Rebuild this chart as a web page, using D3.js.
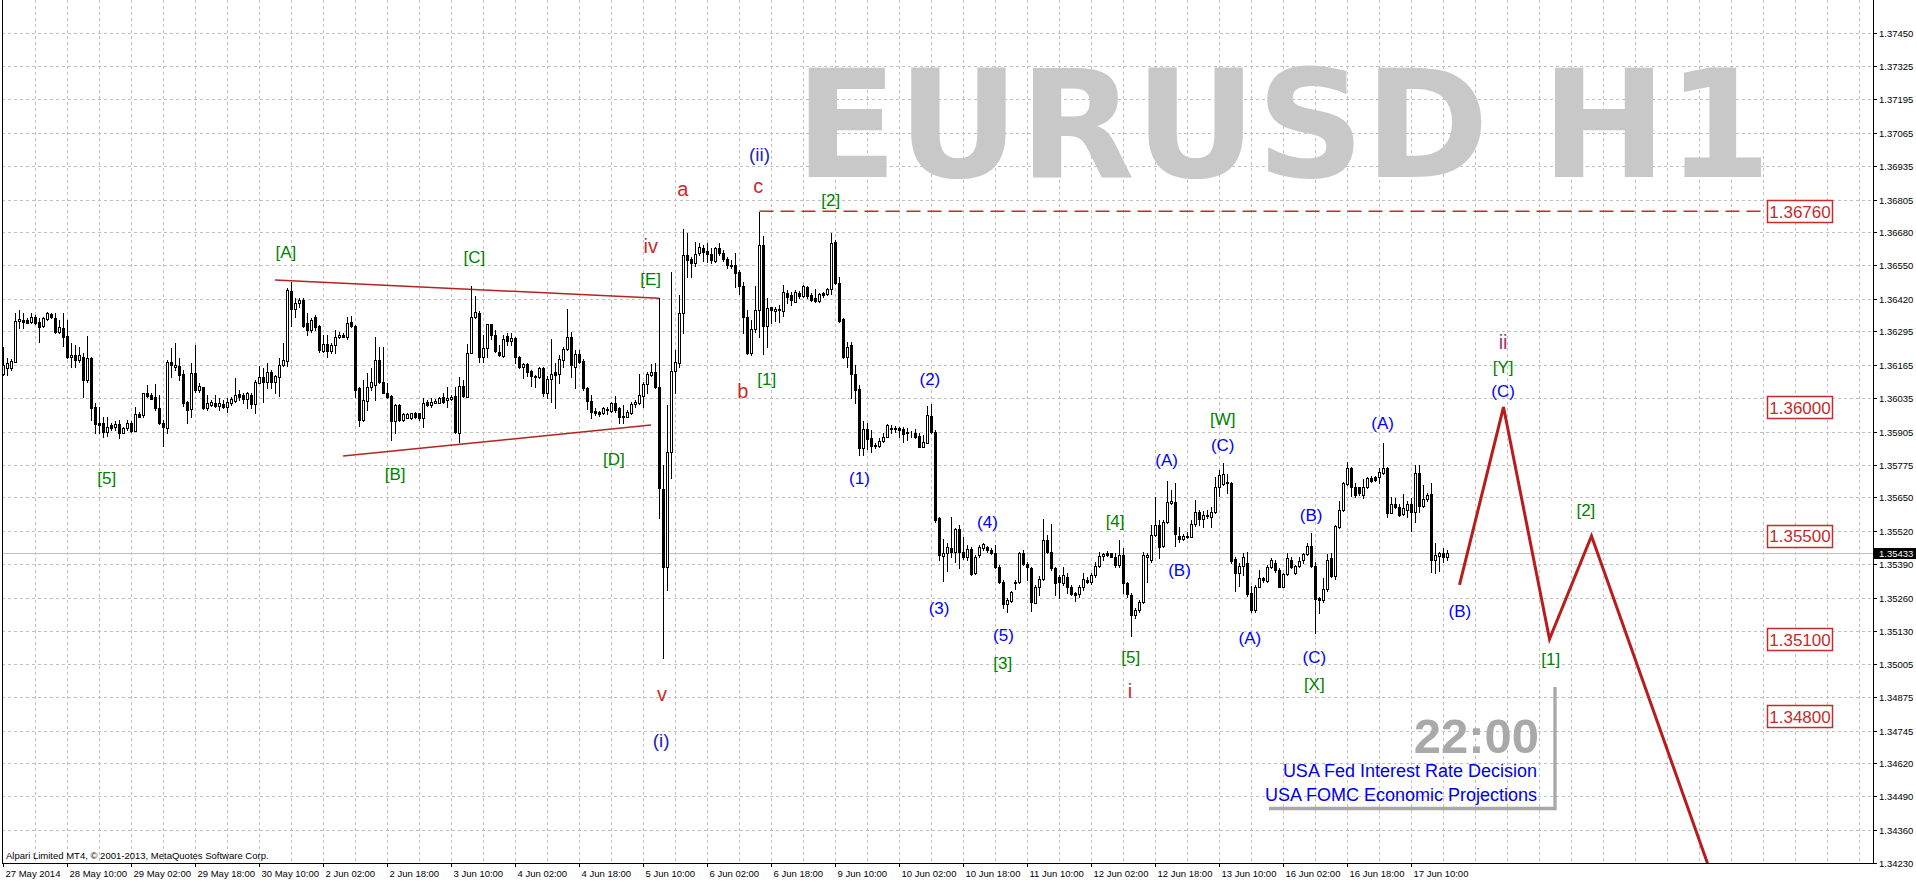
<!DOCTYPE html>
<html><head><meta charset="utf-8">
<script src="https://cdn.jsdelivr.net/npm/d3@7"></script>
<style>html,body{margin:0;padding:0;background:#fff;overflow:hidden}</style>
</head><body>
<svg id="chart" width="1916" height="884"></svg>
<script>
// ---------------- DATA ----------------
const opens=[
1.36128,1.36150,1.36150,1.36176,1.36335,1.36338,1.36338,1.36331,1.36348,1.36331,
1.36315,1.36340,1.36361,1.36347,1.36293,1.36306,1.36276,1.36193,1.36202,1.36183,
1.36196,1.36105,1.36189,1.36002,1.35940,1.35937,1.35905,1.35931,1.35924,1.35934,
1.35901,1.35918,1.35937,1.35909,1.35972,1.35969,1.36053,1.36046,1.36040,1.35995,
1.35937,1.35918,1.36176,1.36157,1.36159,1.36127,1.36021,1.35991,1.36131,1.36066,
1.36077,1.35995,1.36008,1.36017,1.36004,1.36012,1.35999,1.36017,1.36025,1.36051,
1.36047,1.36030,1.36047,1.36012,1.36095,1.36118,1.36099,1.36137,1.36099,1.36115,
1.36163,1.36180,1.36450,1.36379,1.36403,1.36415,1.36325,1.36299,1.36348,1.36315,
1.36219,1.36243,1.36219,1.36241,1.36271,1.36280,1.36273,1.36331,1.36315,1.36073,
1.35950,1.36025,1.36079,1.36086,1.36183,1.36099,1.36056,1.36043,1.35944,1.36008,
1.35950,1.35959,1.35956,1.35976,1.35976,1.35956,1.36021,1.36008,1.36017,1.36017,
1.36038,1.36028,1.36030,1.36043,1.35900,1.36081,1.36040,1.36211,1.36350,1.36366,
1.36195,1.36228,1.36322,1.36279,1.36215,1.36198,1.36275,1.36257,1.36266,1.36195,
1.36156,1.36167,1.36141,1.36115,1.36115,1.36150,1.36056,1.36107,1.36135,1.36128,
1.36182,1.36224,1.36270,1.36156,1.36204,1.36180,1.36072,1.36025,1.35985,1.35979,
1.35978,1.35994,1.35986,1.36014,1.35995,1.35966,1.35963,1.35978,1.36010,1.36014,
1.36044,1.36088,1.36124,1.36135,1.36076,1.35681,1.35378,1.35824,1.36141,1.36169,
1.36363,1.36590,1.36573,1.36560,1.36599,1.36619,1.36607,1.36594,1.36568,1.36616,
1.36599,1.36573,1.36551,1.36550,1.36525,1.36469,1.36348,1.36211,1.36301,1.36376,
1.36628,1.36314,1.36387,1.36374,1.36376,1.36374,1.36444,1.36434,1.36409,1.36444,
1.36431,1.36467,1.36434,1.36425,1.36412,1.36441,1.36438,1.36457,1.36641,1.36480,
1.36340,1.36193,1.36241,1.36128,1.36069,1.35840,1.35913,1.35879,1.35853,1.35849,
1.35870,1.35885,1.35917,1.35917,1.35917,1.35913,1.35904,1.35901,1.35898,1.35888,
1.35846,1.35862,1.35965,1.35905,1.35568,1.35422,1.35435,1.35452,1.35439,1.35526,
1.35439,1.35417,1.35448,1.35355,1.35426,1.35452,1.35459,1.35446,1.35435,1.35381,
1.35323,1.35236,1.35249,1.35323,1.35323,1.35435,1.35391,1.35375,1.35241,1.35303,
1.35332,1.35484,1.35439,1.35375,1.35342,1.35316,1.35342,1.35303,1.35278,1.35275,
1.35303,1.35329,1.35323,1.35349,1.35384,1.35422,1.35435,1.35433,1.35420,1.35387,
1.35426,1.35319,1.35271,1.35193,1.35213,1.35245,1.35420,1.35407,1.35504,1.35543,
1.35461,1.35556,1.35629,1.35633,1.35500,1.35487,1.35500,1.35497,1.35546,1.35594,
1.35565,1.35581,1.35575,1.35594,1.35691,1.35702,1.35711,1.35707,1.35409,1.35355,
1.35384,1.35394,1.35278,1.35213,1.35303,1.35336,1.35327,1.35381,1.35394,1.35368,
1.35303,1.35353,1.35407,1.35358,1.35384,1.35407,1.35430,1.35461,1.35384,1.35258,
1.35252,1.35293,1.35413,1.35345,1.35536,1.35601,1.35702,1.35762,1.35691,1.35689,
1.35659,1.35689,1.35724,1.35727,1.35730,1.35745,1.35762,1.35590,1.35624,1.35614,
1.35585,1.35601,1.35624,1.35594,1.35745,1.35616,1.35642,1.35663,1.35407,1.35422,
1.35433,1.35417];
const highs=[
1.36234,1.36189,1.36185,1.36364,1.36377,1.36364,1.36344,1.36364,1.36357,1.36344,
1.36351,1.36370,1.36366,1.36364,1.36338,1.36364,1.36338,1.36247,1.36241,1.36234,
1.36209,1.36276,1.36196,1.36015,1.36002,1.35963,1.35963,1.35937,1.35944,1.35950,
1.35924,1.35950,1.35944,1.36002,1.35982,1.36056,1.36086,1.36053,1.36090,1.36047,
1.35950,1.36183,1.36228,1.36247,1.36189,1.36144,1.36025,1.36170,1.36241,1.36092,
1.36079,1.36047,1.36028,1.36047,1.36034,1.36028,1.36034,1.36038,1.36112,1.36066,
1.36053,1.36060,1.36053,1.36105,1.36159,1.36150,1.36172,1.36144,1.36124,1.36189,
1.36247,1.36461,1.36487,1.36422,1.36422,1.36422,1.36364,1.36344,1.36357,1.36318,
1.36280,1.36280,1.36247,1.36299,1.36293,1.36286,1.36351,1.36353,1.36318,1.36079,
1.36105,1.36131,1.36150,1.36273,1.36234,1.36234,1.36092,1.36047,1.36012,1.36012,
1.35978,1.35978,1.35978,1.35982,1.35978,1.36034,1.36028,1.36034,1.36030,1.36040,
1.36056,1.36079,1.36047,1.36079,1.36118,1.36105,1.36244,1.36469,1.36431,1.36374,
1.36279,1.36322,1.36322,1.36299,1.36241,1.36279,1.36286,1.36286,1.36270,1.36198,
1.36169,1.36169,1.36144,1.36124,1.36156,1.36154,1.36120,1.36263,1.36172,1.36202,
1.36234,1.36379,1.36292,1.36221,1.36221,1.36185,1.36079,1.36047,1.35995,1.35986,
1.36001,1.35999,1.36021,1.36043,1.35999,1.36008,1.35988,1.36021,1.36027,1.36128,
1.36098,1.36137,1.36167,1.36169,1.36422,1.35775,1.36008,1.36525,1.36221,1.36435,
1.36689,1.36674,1.36583,1.36641,1.36638,1.36628,1.36635,1.36616,1.36622,1.36635,
1.36609,1.36583,1.36570,1.36599,1.36532,1.36486,1.36376,1.36338,1.36469,1.36758,
1.36663,1.36422,1.36389,1.36389,1.36396,1.36473,1.36454,1.36447,1.36454,1.36451,
1.36473,1.36469,1.36444,1.36457,1.36441,1.36447,1.36460,1.36674,1.36650,1.36503,
1.36344,1.36254,1.36254,1.36163,1.36085,1.35947,1.35939,1.35911,1.35859,1.35879,
1.35898,1.35934,1.35930,1.35926,1.35924,1.35921,1.35917,1.35908,1.35913,1.35898,
1.35891,1.36004,1.36012,1.35911,1.35575,1.35487,1.35471,1.35575,1.35530,1.35543,
1.35497,1.35465,1.35459,1.35426,1.35465,1.35471,1.35461,1.35452,1.35465,1.35387,
1.35329,1.35258,1.35288,1.35329,1.35439,1.35446,1.35400,1.35381,1.35310,1.35345,
1.35564,1.35504,1.35546,1.35381,1.35349,1.35381,1.35355,1.35310,1.35284,1.35310,
1.35358,1.35342,1.35355,1.35400,1.35439,1.35433,1.35443,1.35435,1.35433,1.35484,
1.35452,1.35323,1.35278,1.35219,1.35252,1.35439,1.35433,1.35543,1.35652,1.35562,
1.35562,1.35715,1.35678,1.35707,1.35536,1.35508,1.35517,1.35562,1.35640,1.35601,
1.35598,1.35601,1.35614,1.35730,1.35756,1.35782,1.35740,1.35711,1.35420,1.35394,
1.35433,1.35439,1.35306,1.35310,1.35368,1.35342,1.35387,1.35413,1.35407,1.35375,
1.35355,1.35433,1.35420,1.35387,1.35420,1.35435,1.35471,1.35513,1.35400,1.35265,
1.35336,1.35430,1.35435,1.35543,1.35637,1.35711,1.35788,1.35766,1.35704,1.35691,
1.35720,1.35730,1.35733,1.35733,1.35762,1.35859,1.35766,1.35652,1.35646,1.35624,
1.35663,1.35637,1.35646,1.35775,1.35775,1.35698,1.35668,1.35707,1.35471,1.35439,
1.35452,1.35446];
const lows=[
1.36124,1.36124,1.36144,1.36176,1.36306,1.36306,1.36325,1.36325,1.36322,1.36254,
1.36312,1.36338,1.36344,1.36286,1.36286,1.36237,1.36189,1.36154,1.36154,1.36176,
1.36040,1.36099,1.35950,1.35901,1.35901,1.35883,1.35888,1.35911,1.35911,1.35879,
1.35898,1.35911,1.35905,1.35909,1.35960,1.35960,1.36040,1.36030,1.35989,1.35934,
1.35850,1.35901,1.36118,1.36144,1.36105,1.36004,1.35940,1.35963,1.36060,1.36060,
1.35991,1.35989,1.36004,1.36002,1.35989,1.35995,1.35982,1.36008,1.36021,1.36028,
1.36017,1.35995,1.35995,1.35976,1.36092,1.36021,1.36073,1.36073,1.36053,1.36043,
1.36159,1.36159,1.36315,1.36351,1.36390,1.36312,1.36280,1.36293,1.36299,1.36215,
1.36215,1.36196,1.36209,1.36209,1.36267,1.36271,1.36263,1.36312,1.36040,1.35927,
1.35947,1.35989,1.36066,1.36028,1.36092,1.36053,1.36034,1.35872,1.35901,1.35947,
1.35945,1.35956,1.35952,1.35956,1.35950,1.35924,1.36004,1.36002,1.36015,1.36015,
1.36017,1.36002,1.36027,1.35900,1.35866,1.36040,1.36038,1.36208,1.36344,1.36176,
1.36176,1.36193,1.36263,1.36215,1.36198,1.36195,1.36241,1.36241,1.36169,1.36150,
1.36111,1.36120,1.36081,1.36076,1.36111,1.36043,1.36034,1.36021,1.35995,1.36092,
1.36156,1.36221,1.36118,1.36072,1.36169,1.36066,1.35991,1.35956,1.35969,1.35965,
1.35973,1.35975,1.35982,1.35982,1.35937,1.35939,1.35960,1.35975,1.36001,1.36012,
1.36001,1.36053,1.36120,1.36072,1.35568,1.35025,1.35290,1.35723,1.36053,1.36157,
1.36286,1.36506,1.36506,1.36547,1.36590,1.36568,1.36564,1.36560,1.36564,1.36590,
1.36568,1.36538,1.36538,1.36467,1.36438,1.36288,1.36206,1.36202,1.36292,1.36273,
1.36206,1.36234,1.36325,1.36335,1.36331,1.36353,1.36402,1.36396,1.36409,1.36425,
1.36428,1.36425,1.36412,1.36409,1.36409,1.36428,1.36434,1.36438,1.36477,1.36331,
1.36189,1.36154,1.36034,1.36014,1.35814,1.35814,1.35836,1.35827,1.35840,1.35846,
1.35866,1.35882,1.35901,1.35904,1.35882,1.35866,1.35872,1.35882,1.35879,1.35844,
1.35844,1.35859,1.35898,1.35555,1.35407,1.35327,1.35365,1.35420,1.35400,1.35375,
1.35409,1.35407,1.35349,1.35353,1.35420,1.35446,1.35439,1.35430,1.35375,1.35319,
1.35219,1.35206,1.35245,1.35293,1.35319,1.35387,1.35329,1.35210,1.35239,1.35271,
1.35329,1.35433,1.35368,1.35271,1.35258,1.35310,1.35278,1.35271,1.35249,1.35262,
1.35290,1.35316,1.35314,1.35342,1.35378,1.35407,1.35422,1.35417,1.35378,1.35381,
1.35280,1.35265,1.35112,1.35181,1.35206,1.35241,1.35323,1.35400,1.35500,1.35413,
1.35459,1.35552,1.35624,1.35461,1.35478,1.35484,1.35491,1.35495,1.35539,1.35543,
1.35536,1.35568,1.35536,1.35590,1.35655,1.35698,1.35665,1.35394,1.35288,1.35306,
1.35349,1.35267,1.35203,1.35206,1.35301,1.35323,1.35323,1.35375,1.35362,1.35301,
1.35301,1.35349,1.35375,1.35353,1.35381,1.35394,1.35426,1.35378,1.35122,1.35200,
1.35245,1.35288,1.35340,1.35332,1.35530,1.35598,1.35698,1.35655,1.35650,1.35659,
1.35646,1.35685,1.35711,1.35715,1.35704,1.35740,1.35572,1.35588,1.35607,1.35578,
1.35581,1.35575,1.35521,1.35556,1.35594,1.35614,1.35637,1.35362,1.35358,1.35365,
1.35400,1.35407];
const closes=[
1.36163,1.36170,1.36179,1.36335,1.36340,1.36331,1.36328,1.36348,1.36325,1.36312,
1.36344,1.36364,1.36348,1.36293,1.36309,1.36273,1.36193,1.36202,1.36183,1.36202,
1.36105,1.36189,1.35995,1.35934,1.35931,1.35905,1.35924,1.35918,1.35934,1.35901,
1.35918,1.35937,1.35909,1.35972,1.35963,1.36053,1.36043,1.36031,1.35995,1.35937,
1.35921,1.36176,1.36163,1.36163,1.36124,1.36015,1.35989,1.36131,1.36066,1.36082,
1.35995,1.36017,1.36021,1.36004,1.36015,1.35999,1.36021,1.36030,1.36047,1.36040,
1.36030,1.36053,1.36012,1.36099,1.36115,1.36099,1.36137,1.36099,1.36121,1.36163,
1.36183,1.36454,1.36379,1.36403,1.36415,1.36315,1.36299,1.36338,1.36312,1.36221,
1.36243,1.36219,1.36241,1.36271,1.36280,1.36273,1.36325,1.36315,1.36066,1.35950,
1.36028,1.36079,1.36099,1.36183,1.36099,1.36056,1.36040,1.35947,1.36008,1.35950,
1.35973,1.35973,1.35976,1.35963,1.35956,1.36015,1.36008,1.36021,1.36025,1.36034,
1.36021,1.36034,1.36040,1.35904,1.36081,1.36043,1.36208,1.36350,1.36370,1.36195,
1.36228,1.36322,1.36279,1.36219,1.36202,1.36263,1.36257,1.36266,1.36195,1.36156,
1.36166,1.36137,1.36120,1.36120,1.36150,1.36056,1.36107,1.36128,1.36124,1.36185,
1.36224,1.36270,1.36163,1.36204,1.36176,1.36072,1.36025,1.35982,1.35978,1.35975,
1.35995,1.35988,1.36014,1.35988,1.35963,1.35963,1.35979,1.36012,1.36019,1.36047,
1.36089,1.36128,1.36135,1.36076,1.35685,1.35378,1.35824,1.36141,1.36176,1.36363,
1.36590,1.36570,1.36560,1.36594,1.36622,1.36603,1.36594,1.36570,1.36616,1.36599,
1.36573,1.36551,1.36547,1.36521,1.36469,1.36348,1.36211,1.36301,1.36376,1.36628,
1.36314,1.36383,1.36376,1.36379,1.36379,1.36447,1.36428,1.36415,1.36447,1.36431,
1.36469,1.36431,1.36415,1.36412,1.36438,1.36434,1.36457,1.36638,1.36480,1.36335,
1.36193,1.36234,1.36128,1.36066,1.35840,1.35913,1.35875,1.35849,1.35849,1.35870,
1.35885,1.35930,1.35913,1.35913,1.35911,1.35895,1.35901,1.35898,1.35882,1.35846,
1.35866,1.35969,1.35905,1.35562,1.35426,1.35435,1.35456,1.35439,1.35526,1.35439,
1.35417,1.35448,1.35353,1.35420,1.35456,1.35469,1.35446,1.35435,1.35381,1.35323,
1.35236,1.35252,1.35284,1.35316,1.35435,1.35391,1.35378,1.35245,1.35303,1.35332,
1.35484,1.35439,1.35375,1.35316,1.35323,1.35349,1.35303,1.35275,1.35271,1.35303,
1.35332,1.35323,1.35349,1.35384,1.35422,1.35430,1.35426,1.35420,1.35387,1.35426,
1.35316,1.35275,1.35193,1.35213,1.35245,1.35426,1.35426,1.35504,1.35543,1.35459,
1.35556,1.35633,1.35637,1.35508,1.35487,1.35500,1.35495,1.35546,1.35594,1.35565,
1.35581,1.35578,1.35594,1.35689,1.35737,1.35739,1.35704,1.35404,1.35358,1.35384,
1.35420,1.35275,1.35213,1.35303,1.35336,1.35329,1.35381,1.35407,1.35368,1.35303,
1.35353,1.35413,1.35381,1.35384,1.35404,1.35430,1.35461,1.35384,1.35254,1.35252,
1.35293,1.35407,1.35345,1.35539,1.35601,1.35704,1.35762,1.35691,1.35659,1.35665,
1.35691,1.35724,1.35715,1.35717,1.35749,1.35762,1.35590,1.35624,1.35614,1.35581,
1.35607,1.35624,1.35594,1.35743,1.35616,1.35642,1.35659,1.35407,1.35426,1.35433,
1.35420,1.35433];

const timeLabels=["27 May 2014","28 May 10:00","29 May 02:00","29 May 18:00","30 May 10:00",
"2 Jun 02:00","2 Jun 18:00","3 Jun 10:00","4 Jun 02:00","4 Jun 18:00","5 Jun 10:00",
"6 Jun 02:00","6 Jun 18:00","9 Jun 10:00","10 Jun 02:00","10 Jun 18:00","11 Jun 10:00",
"12 Jun 02:00","12 Jun 18:00","13 Jun 10:00","16 Jun 02:00","16 Jun 18:00","17 Jun 10:00"];
const barsPerTimeLabel=16;
const priceTickLabels=["1.37450","1.37325","1.37195","1.37065","1.36935","1.36805","1.36680",
"1.36550","1.36420","1.36295","1.36165","1.36035","1.35905","1.35775","1.35650","1.35520",
"1.35390","1.35260","1.35130","1.35005","1.34875","1.34745","1.34620","1.34490","1.34360","1.34230"];
const lastPrice=1.35433;
const resistanceLevel=1.36760, resistanceFromBar=189;
const targetLevels=[1.36760,1.36000,1.35500,1.35100,1.34800];
const triangleUpper=[[67.9,1.36493],[163.9,1.36422]];
const triangleLower=[[84.9,1.35810],[161.9,1.35930]];
const projectionPath=[[364,1.35310],[375,1.36000],[386.5,1.35100],[397,1.35500],[426,1.34230]];
// [text, bar index, price, style]
const waveLabels=[
["[5]",25.8,1.35723,"g"],["[A]",70.6,1.36601,"g"],["[B]",97.9,1.35740,"g"],
["[C]",117.7,1.36581,"g"],["[D]",152.6,1.35798,"g"],["[E]",161.8,1.36496,"g"],
["iv",161.8,1.36626,"r"],["v",164.6,1.34885,"r"],["(i)",164.4,1.34708,"n"],
["a",169.8,1.36846,"r"],["(ii)",189,1.36978,"n"],["c",188.7,1.36859,"r"],
["b",184.8,1.36063,"r"],["[1]",190.8,1.36105,"g"],["[2]",206.8,1.36803,"g"],
["(1)",214,1.35723,"b"],["(2)",231.6,1.36105,"b"],["(3)",233.9,1.35217,"b"],
["(4)",246,1.35551,"b"],["(5)",250,1.35115,"b"],["[3]",249.8,1.35006,"g"],
["[4]",277.9,1.35555,"g"],["[5]",281.8,1.35029,"g"],["i",281.6,1.34899,"r"],
["(A)",290.8,1.35791,"b"],["(B)",294,1.35365,"b"],["[W]",304.8,1.35952,"g"],
["(C)",304.8,1.35850,"b"],["(A)",311.6,1.35103,"b"],["(B)",326.9,1.35581,"b"],
["(C)",327.7,1.35027,"b"],["[X]",327.7,1.34925,"g"],["(A)",344.8,1.35937,"b"],
["(B)",364.1,1.35205,"b"],["ii",374.9,1.36252,"p"],["[Y]",374.9,1.36155,"g"],
["(C)",374.9,1.36062,"b"],["[2]",395.6,1.35597,"g"],["[1]",386.8,1.35021,"g"]];
const titleText="EURUSD H1";
const eventTime="22:00";
const eventLines=["USA Fed Interest Rate Decision","USA FOMC Economic Projections"];
const copyright="Alpari Limited MT4, \u00A9 2001-2013, MetaQuotes Software Corp.";

// ---------------- LAYOUT ----------------
const W=1916,H=884, plotL=2, plotR=1873, plotB=863;
const svg=d3.select("#chart");
const x=d3.scaleLinear().domain([0,467]).range([3.5,1871.5]);
const y=d3.scaleLinear().domain([1.34230,1.37450]).range([863.3,33.3]);
const yr=v=>Math.round(y(v));
const FONT="'Liberation Sans', Arial, sans-serif";

svg.append("rect").attr("width",W).attr("height",H).attr("fill","#fff");
svg.append("defs").append("clipPath").attr("id","plotclip").append("rect")
  .attr("x",plotL).attr("y",0).attr("width",plotR-plotL).attr("height",plotB);

// grid
const grid=svg.append("g").attr("stroke","#c0c0c0").attr("stroke-width",1).attr("stroke-dasharray","3,3").attr("shape-rendering","crispEdges");
grid.selectAll("line.v").data(d3.range(8,465,8)).join("line")
  .attr("x1",d=>x(d)).attr("x2",d=>x(d)).attr("y1",0).attr("y2",plotB);
grid.selectAll("line.h").data(priceTickLabels.map(Number)).join("line")
  .attr("x1",plotL).attr("x2",plotR).attr("y1",d=>yr(d)+0.5).attr("y2",d=>yr(d)+0.5);

// title
svg.append("text").attr("x",795).attr("y",177).attr("font-family","'DejaVu Sans', sans-serif")
  .attr("font-weight","bold").attr("font-size",150).attr("fill","#c8c8c8").text(titleText);

// current price line
svg.append("line").attr("x1",plotL).attr("x2",plotR).attr("y1",yr(lastPrice)+0.5).attr("y2",yr(lastPrice)+0.5)
  .attr("stroke","#c0c0c0").attr("stroke-width",1);

// triangle trend lines
const lineGen=d3.line().x(d=>x(d[0])).y(d=>y(d[1]));
[triangleUpper,triangleLower].forEach(seg=>{
  svg.append("path").attr("d",lineGen(seg)).attr("fill","none").attr("stroke","#b52222").attr("stroke-width",1.5);
});

// resistance dashed line
svg.append("line").attr("x1",x(resistanceFromBar)).attr("x2",1767).attr("y1",y(resistanceLevel)).attr("y2",y(resistanceLevel))
  .attr("stroke","#c42b2b").attr("stroke-width",1.5).attr("stroke-dasharray","14,7");

// candles
const candles=svg.append("g");
opens.forEach((o,i)=>{
  const c=closes[i], h=Math.max(highs[i],o,c), l=Math.min(lows[i],o,c);
  const cx=x(i);
  candles.append("line").attr("x1",cx).attr("x2",cx).attr("y1",yr(h)).attr("y2",yr(l)+1)
    .attr("stroke","#000").attr("stroke-width",1);
  const top=yr(Math.max(o,c)), bot=yr(Math.min(o,c));
  candles.append("rect").attr("x",cx-1).attr("y",top+0.5).attr("width",2).attr("height",Math.max(0,bot-top))
    .attr("fill",c>=o?"#fff":"#000").attr("stroke","#000").attr("stroke-width",1);
});

// projection zigzag
svg.append("path").attr("clip-path","url(#plotclip)").attr("d",lineGen(projectionPath))
  .attr("fill","none").attr("stroke","#b81c1c").attr("stroke-width",3).attr("stroke-linejoin","miter");

// target price boxes
const boxes=svg.append("g");
targetLevels.forEach(v=>{
  const cy=y(v);
  boxes.append("rect").attr("x",1767.5).attr("y",Math.round(cy)-10.5).attr("width",65).attr("height",22)
    .attr("fill","#fff").attr("stroke","#c42b2b").attr("stroke-width",1.5);
  boxes.append("text").attr("x",1800).attr("y",cy+6.5).attr("text-anchor","middle").attr("font-family",FONT)
    .attr("font-size",17).attr("fill","#c42b2b").text(v.toFixed(5));
});

// wave labels
const styles={g:{c:"#008000",s:17},b:{c:"#0000ff",s:17},n:{c:"#2424b4",s:19},r:{c:"#cc2a2a",s:20},p:{c:"#a8306a",s:20}};
svg.append("g").selectAll("text").data(waveLabels).join("text")
  .attr("x",d=>x(d[1])).attr("y",d=>y(d[2])).attr("text-anchor","middle").attr("dominant-baseline","central")
  .attr("font-family",FONT).attr("font-size",d=>styles[d[3]].s).attr("fill",d=>styles[d[3]].c).text(d=>d[0]);

// event box
svg.append("polyline").attr("points","1269,808.5 1555,808.5 1555,687").attr("fill","none")
  .attr("stroke","#a8a8a8").attr("stroke-width",3.3);
svg.append("text").attr("x",1539).attr("y",753).attr("text-anchor","end").attr("font-family",FONT)
  .attr("font-weight","bold").attr("font-size",49).attr("fill","#a9a9a9").text(eventTime);
eventLines.forEach((t,k)=>{
  svg.append("text").attr("x",1537).attr("y",777+24*k).attr("text-anchor","end").attr("font-family",FONT)
    .attr("font-size",18).attr("fill","#0000e6").text(t);
});

// copyright
svg.append("text").attr("x",6).attr("y",859).attr("font-family",FONT).attr("font-size",9.5).attr("fill","#000").text(copyright);

// frame
svg.append("line").attr("x1",2.5).attr("x2",2.5).attr("y1",0).attr("y2",plotB+1).attr("stroke","#000");
svg.append("line").attr("x1",plotR+0.5).attr("x2",plotR+0.5).attr("y1",0).attr("y2",plotB+1).attr("stroke","#000");
svg.append("line").attr("x1",2).attr("x2",plotR+1).attr("y1",plotB+0.5).attr("y2",plotB+0.5).attr("stroke","#000");

// y axis
const yAxisScale=y.copy().interpolate(d3.interpolateRound);
const yAxis=d3.axisRight(yAxisScale).tickValues(priceTickLabels.map(Number))
  .tickFormat((d,i)=>priceTickLabels[i]).tickSize(4).tickSizeOuter(0).tickPadding(2);
const gy=svg.append("g").attr("transform",`translate(${plotR},0)`).call(yAxis);
gy.select(".domain").remove();
gy.selectAll("text").attr("font-family",FONT).attr("font-size",9.5).attr("fill","#000");
gy.selectAll("line").attr("stroke","#000");

// x axis
const xAxis=d3.axisBottom(x).tickValues(timeLabels.map((t,k)=>k*barsPerTimeLabel))
  .tickFormat((d,i)=>timeLabels[i]).tickSize(4).tickSizeOuter(0);
const gx=svg.append("g").attr("transform",`translate(-0.5,${plotB})`).call(xAxis);
gx.select(".domain").remove();
gx.selectAll("text").attr("text-anchor","start").attr("x",2).attr("y",7).attr("font-family",FONT).attr("font-size",9.5).attr("fill","#000");
gx.selectAll("line").attr("stroke","#000");

// last price marker
const lpY=yr(lastPrice);
svg.append("rect").attr("x",plotR+1).attr("y",lpY-5).attr("width",W-plotR-1).attr("height",11).attr("fill","#000");
svg.append("text").attr("x",plotR+6).attr("y",lpY+4).attr("font-family",FONT).attr("font-size",9.5).attr("fill","#fff").text(lastPrice.toFixed(5));
</script>
</body></html>
